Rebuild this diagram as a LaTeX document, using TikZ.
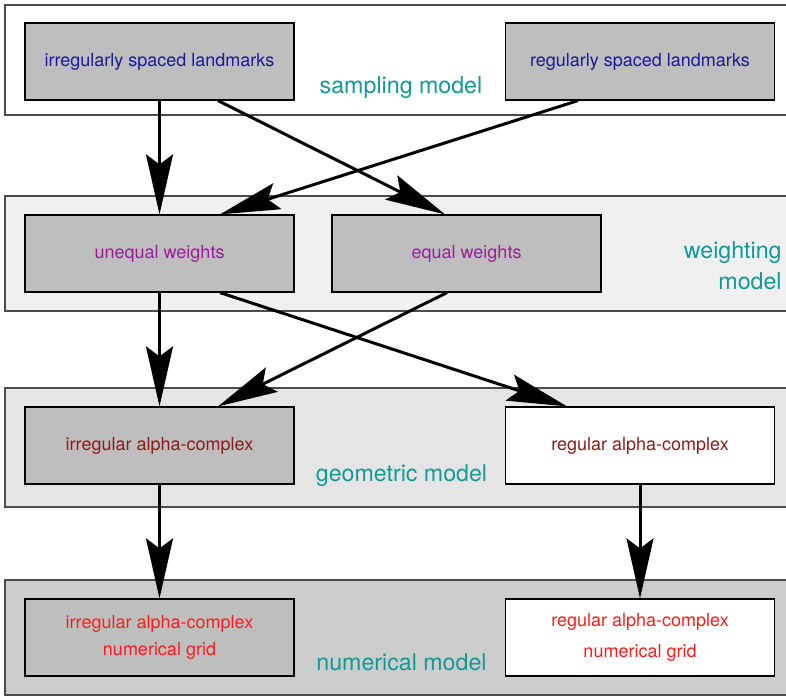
\documentclass[tikz,border=0pt]{standalone}
\usepackage{fontspec}
\setmainfont{TeX Gyre Heros}
\usepackage{xcolor}
\usetikzlibrary{arrows.meta,positioning}
\definecolor{modteal}{HTML}{129A94}
\definecolor{sampblue}{HTML}{1A1A9A}
\definecolor{weipurple}{HTML}{9A1E9A}
\definecolor{geored}{HTML}{8E1A1A}
\definecolor{numred}{HTML}{FF1C1C}
\definecolor{boxgray}{HTML}{BEBEBE}

\begin{document}
\begin{tikzpicture}[
    x=0.5pt,y=-0.5pt,
    bande/.style  = {draw=black!70, line width=0.6pt},
    boite/.style  = {draw=black, fill=boxgray, line width=0.6pt,
                     minimum width=134.5pt, minimum height=38.5pt,
                     align=center, font=\fontsize{9}{13.5}\selectfont},
    blanc/.style  = {boite, fill=white},
    nommod/.style = {font=\fontsize{11.6}{15.5}\selectfont, text=modteal},
    fleche/.style = {-{Stealth[length=30pt,width=13.5pt,inset=5pt]},
                     line width=1.5pt},
  ]

  \useasboundingbox (0,0) rectangle (786,696);
  \clip (0,0) rectangle (786,696);

  % bands
  \draw[bande,fill=white]    (5,5)   rectangle (800,115);
  \draw[bande,fill=black!6]  (5,196) rectangle (800,311);
  \draw[bande,fill=black!10] (5,388) rectangle (800,507);
  \draw[bande,fill=black!20] (5,580) rectangle (800,695);

  \node[nommod] (msam) at (401,88)  {sampling model};
  \node[nommod,align=right,anchor=east,inner sep=0pt] (mwei) at (782,265.5) {weighting\\model};
  \node[nommod] (mgeo) at (401.5,476) {geometric model};
  \node[nommod] (mnum) at (401.5,662) {numerical model};

  \node[boite,text=sampblue]  (irl) at (159.5,61.5)  {irregularly spaced landmarks};
  \node[boite,text=sampblue]  (rgl) at (640,61.5)    {regularly spaced landmarks};
  \node[boite,text=weipurple] (unw) at (159.5,253.5) {unequal weights};
  \node[boite,text=weipurple] (eqw) at (466.5,253.5) {equal weights};
  \node[boite,text=geored]    (iac) at (159.5,445.5) {irregular alpha-complex};
  \node[blanc,text=geored]    (rac) at (640,445.5)   {regular alpha-complex};
  \node[boite,text=numred]    (ing) at (159.5,637.5) {irregular alpha-complex\\numerical grid};
  \node[blanc,text=numred]    (rng) at (640,637.5)   {regular alpha-complex\\[2pt]numerical grid};

  \foreach \a/\b in {irl/unw,unw/iac,iac/ing,rac/rng}
    \draw[fleche] (\a.south) -- (\b.north);
  \draw[fleche] ([xshift=29.25pt]irl.south) -- ([xshift=-10.75pt]eqw.north);
  \draw[fleche] ([xshift=-31pt]rgl.south)   -- ([xshift=30.25pt]unw.north);
  \draw[fleche] ([xshift=30.25pt]unw.south) -- ([xshift=-36.5pt]rac.north);
  \draw[fleche] ([xshift=-9.75pt]eqw.south) -- ([xshift=29.25pt]iac.north);

\end{tikzpicture}
\end{document}
